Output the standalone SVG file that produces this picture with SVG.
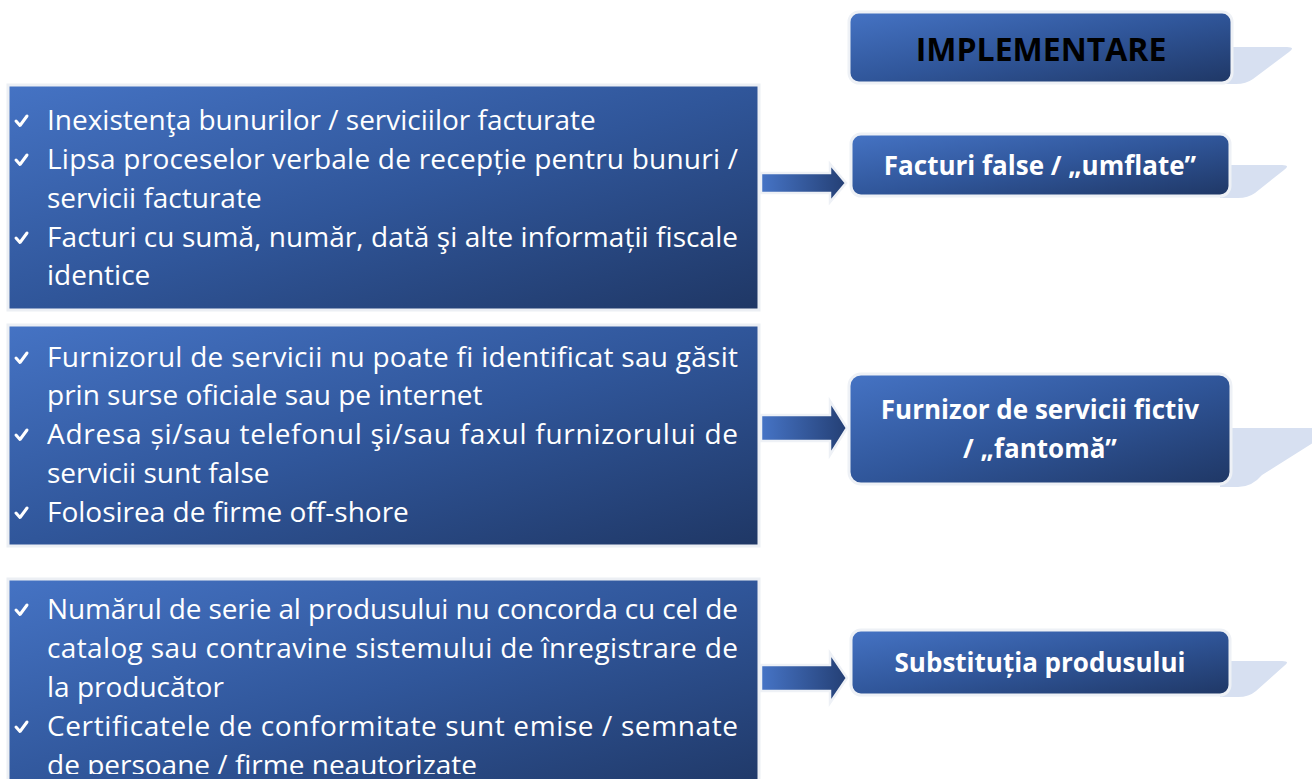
<svg xmlns="http://www.w3.org/2000/svg" width="1312" height="779" viewBox="0 0 1312 779">
<defs>
<linearGradient id="g" x1="0" y1="0" x2="1" y2="1">
<stop offset="0" stop-color="#4573c4"/>
<stop offset="0.5" stop-color="#30569a"/>
<stop offset="1" stop-color="#1f3765"/>
</linearGradient>
<linearGradient id="ga" x1="0" y1="0" x2="1" y2="0">
<stop offset="0" stop-color="#4674c6"/>
<stop offset="1" stop-color="#243f74"/>
</linearGradient>
<clipPath id="c3"><rect x="0" y="0" width="1312" height="774"/></clipPath>
</defs>
<style>
.lb{fill:url(#g);stroke:#eceff4;stroke-width:3}
.rb{fill:url(#g);stroke:#eef1f6;stroke-width:3}
.sh{fill:#d7e0f1}
.t{font-family:"Open Sans","Liberation Sans",sans-serif;font-size:28px;fill:#fff;font-variant-ligatures:none}
.h{font-family:"Open Sans","Liberation Sans",sans-serif;font-size:26px;font-weight:bold;fill:#fff;text-anchor:middle;font-variant-ligatures:none}
.hk{font-family:"Open Sans","Liberation Sans",sans-serif;font-size:32px;font-weight:bold;fill:#000;text-anchor:middle}
.ck{fill:none;stroke:#fff;stroke-width:3;stroke-linecap:round;stroke-linejoin:round}
.ar{fill:url(#ga);stroke:#eef1f6;stroke-width:2.5}
</style>
<rect width="1312" height="779" fill="#fff"/>

<g id="box1">
<rect class="lb" x="8" y="85" width="751" height="225"/>
<path class="ck" d="M16,121 L20,125.5 L27,116"/>
<text class="t" x="47" y="130">Inexistenţa bunurilor / serviciilor facturate</text>
<path class="ck" d="M16,160 L20,164.5 L27,155"/>
<text class="t" x="47" y="169" textLength="691" lengthAdjust="spacing">Lipsa proceselor verbale de recepție pentru bunuri /</text>
<text class="t" x="47" y="208">servicii facturate</text>
<path class="ck" d="M16,238 L20,242.5 L27,233"/>
<text class="t" x="47" y="247" textLength="691" lengthAdjust="spacing">Facturi cu sumă, număr, dată şi alte informații fiscale</text>
<text class="t" x="47" y="285">identice</text>
</g>

<g id="box2">
<rect class="lb" x="8" y="325" width="751" height="221"/>
<path class="ck" d="M16,358 L20,362.5 L27,353"/>
<text class="t" x="47" y="367" textLength="691" lengthAdjust="spacing">Furnizorul de servicii nu poate fi identificat sau găsit</text>
<text class="t" x="47" y="405">prin surse oficiale sau pe internet</text>
<path class="ck" d="M16,435 L20,439.5 L27,430"/>
<text class="t" x="47" y="444" textLength="691" lengthAdjust="spacing">Adresa și/sau telefonul şi/sau faxul furnizorului de</text>
<text class="t" x="47" y="483">servicii sunt false</text>
<path class="ck" d="M16,513 L20,517.5 L27,508"/>
<text class="t" x="47" y="522">Folosirea de firme off-shore</text>
</g>

<g id="box3">
<rect class="lb" x="8" y="579" width="751" height="220"/>
<g clip-path="url(#c3)">
<path class="ck" d="M16,610 L20,614.5 L27,605"/>
<text class="t" x="47" y="619" textLength="691" lengthAdjust="spacing">Numărul de serie al produsului nu concorda cu cel de</text>
<text class="t" x="47" y="658" textLength="691" lengthAdjust="spacing">catalog sau contravine sistemului de înregistrare de</text>
<text class="t" x="47" y="697">la producător</text>
<path class="ck" d="M16,727 L20,731.5 L27,722"/>
<text class="t" x="47" y="736" textLength="691" lengthAdjust="spacing">Certificatele de conformitate sunt emise / semnate</text>
<text class="t" x="47" y="775">de persoane / firme neautorizate</text>
</g>
</g>

<g id="connectors">
<path class="ar" d="M761,173 L830,173 L830,164 L846,183 L830,202 L830,193 L761,193 Z"/>
<path class="ar" d="M761,415 L830,415 L830,401 L847,428 L830,455 L830,441 L761,441 Z"/>
<path class="ar" d="M761,665 L830,665 L830,653 L847,678 L830,703 L830,691 L761,691 Z"/>
</g>

<g id="implementare">
<path class="sh" d="M1220,47 L1287,47 Q1296,47 1289,52 L1253,79 Q1246,84 1236,84 L1220,84 Z"/>
<rect class="rb" x="849" y="12" width="383" height="71" rx="10"/>
<text class="hk" x="1041" y="61">IMPLEMENTARE</text>
</g>

<g id="facturi">
<path class="sh" d="M1220,165 L1282,165 Q1291,165 1284,170 L1255,193 Q1248,198 1238,198 L1220,198 Z"/>
<rect class="rb" x="851" y="134" width="379" height="62" rx="10"/>
<text class="h" x="1040" y="175">Facturi false / „umflate”</text>
</g>

<g id="furnizor">
<path class="sh" d="M1220,428 L1330,428 L1330,432 L1262,475 Q1252,487 1238,487 L1220,487 Z"/>
<rect class="rb" x="849" y="374" width="382" height="110" rx="12"/>
<text class="h" x="1040" y="419">Furnizor de servicii fictiv</text>
<text class="h" x="1040" y="458">/ „fantomă”</text>
</g>

<g id="substitutie">
<path class="sh" d="M1220,661 L1282,661 Q1291,661 1284,666 L1256,691 Q1249,697 1238,697 L1220,697 Z"/>
<rect class="rb" x="851" y="630" width="379" height="65" rx="10"/>
<text class="h" x="1040" y="672">Substituția produsului</text>
</g>
</svg>
